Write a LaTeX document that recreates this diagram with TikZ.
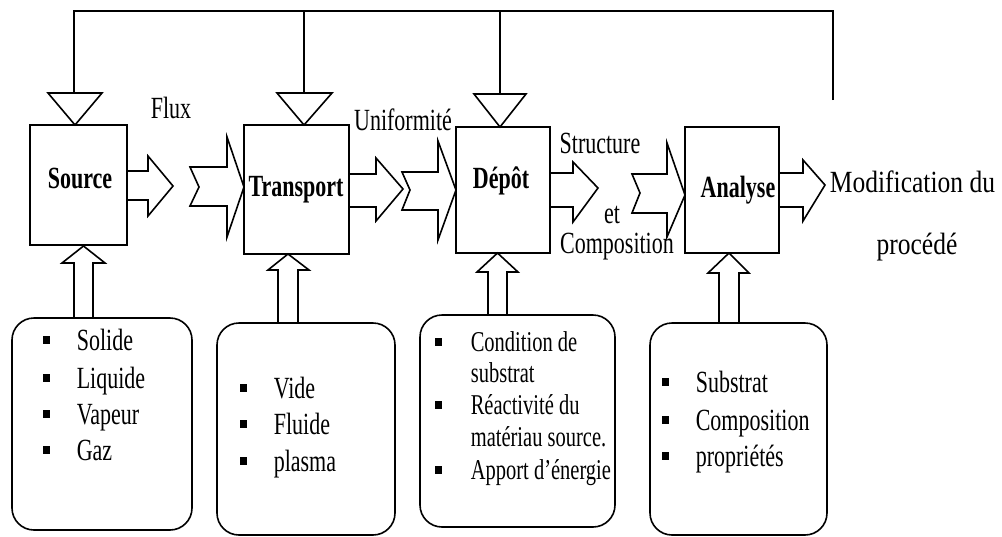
\documentclass[tikz,border=0pt]{standalone}
\usepackage{fontspec}
\setmainfont{Liberation Serif}
\begin{document}
\begin{tikzpicture}[x=1pt,y=-1pt, line width=1.6pt, line join=miter,
  box/.style={draw, line width=1.6pt, inner sep=0pt},
  rbox/.style={draw, line width=1.6pt, rounded corners=22pt, inner sep=0pt},
  lbl/.style={font=\fontsize{22}{26}\selectfont\bfseries, yscale=1.4, inner sep=0pt},
  ann/.style={font=\fontsize{22}{26}\selectfont, yscale=1.4, inner sep=0pt},
  wide/.style={xscale=1.16},
  txt/.style={font=\fontsize{22}{26}\selectfont, yscale=1.4, inner sep=0pt, anchor=base west},
  stxt/.style={font=\fontsize{20.5}{24}\selectfont, yscale=1.4, inner sep=0pt, anchor=base west},
  blk/.style={draw, line width=1.6pt},
  bul/.style={fill=black, minimum width=7pt, minimum height=8.5pt, inner sep=0pt, draw=none},
]
\useasboundingbox (0,0) rectangle (1002,536);

% main boxes
\node[box, minimum width=97pt, minimum height=120pt] (source) at (78.5,185) {};
\node[box, minimum width=105pt, minimum height=129pt] (transport) at (296.5,189.5) {};
\node[box, minimum width=94pt, minimum height=126pt] (depot) at (503,190) {};
\node[box, minimum width=94pt, minimum height=126pt] (analyse) at (732,190) {};

\node[lbl] (lsource) at (80,178) {Source};
\node[lbl] (ltransport) at (296,190) {Transport};
\node[lbl] (ldepot) at (501,181) {Dépôt};
\node[lbl] (lanalyse) at (738,190) {Analyse};

% feedback line and triangles
\coordinate (fbend) at (833,100);
\draw (fbend) -- (833,11) -- (74,11) -- (74,93);
\draw (304,11) -- (304,93);
\draw (500,11) -- (500,94);
\draw[blk] (48,93) -- (102,93) -- (75,125) -- cycle;
\draw[blk] (277,93) -- (332,93) -- (304,125) -- cycle;
\draw[blk] (474,94) -- (526,94) -- (500,127) -- cycle;

% horizontal block arrows
\draw[blk] (127,171) -- (148,171) -- (148,156) -- (173,186) -- (148,216) -- (148,200) -- (127,200);
\draw[blk] (190,167) -- (227,167) -- (227,137) -- (244,187) -- (227,237) -- (227,206) -- (190,206) -- (199,187) -- cycle;
\draw[blk] (349,174) -- (376,174) -- (376,158) -- (403,189) -- (376,221) -- (376,207) -- (349,207);
\draw[blk] (402,172) -- (438,172) -- (438,141) -- (456,190) -- (438,240) -- (438,210) -- (402,210) -- (410,190) -- cycle;
\draw[blk] (550,173) -- (573,173) -- (573,162) -- (598,188) -- (573,222) -- (573,207) -- (550,207);
\draw[blk] (632,174) -- (667,174) -- (667,143) -- (685,195) -- (667,237) -- (667,213) -- (632,213) -- (640,193) -- cycle;
\draw[blk] (779,173) -- (803,173) -- (803,160) -- (825,185) -- (803,221) -- (803,207) -- (779,207);

% flow labels
\node[ann] (flux) at (171,108) {Flux};
\node[ann] (unif) at (403,120) {Uniformité};
\node[ann] (struct) at (600,143) {Structure};
\node[ann] (et) at (612,215) {et};
\node[ann] (compo) at (617,247) {Composition};
\node[ann, wide, anchor=west] (modif) at (829,182) {Modification du};
\node[ann, wide] (proc) at (917,247) {procédé};

% bottom boxes
\node[rbox, minimum width=180pt, minimum height=212pt] (b1) at (102,424) {};
\node[rbox, minimum width=178pt, minimum height=212pt] (b2) at (306,429) {};
\node[rbox, minimum width=195pt, minimum height=212pt] (b3) at (517.5,421) {};
\node[rbox, minimum width=177pt, minimum height=212pt] (b4) at (738.5,429) {};

% up arrows
\draw[blk] (74,318) -- (74,263) -- (62,263) -- (83.5,246) -- (105,263) -- (93,263) -- (93,318);
\draw[blk] (278,323) -- (278,270) -- (268,270) -- (288,254) -- (309,270) -- (298,270) -- (298,323);
\draw[blk] (488,315) -- (488,272) -- (477,272) -- (497.5,253) -- (518,272) -- (507,272) -- (507,315);
\draw[blk] (719,323) -- (719,273) -- (708,273) -- (729,253) -- (749,273) -- (739,273) -- (739,323);

% lists
\foreach \y/\t [count=\i] in {340/Solide, 378/Liquide, 414/Vapeur, 450/Gaz} {
  \node[bul] (bu1\i) at (46,\y) {};
  \node[txt] (t1\i) at (76,\y+10) {\t};
}
\foreach \y/\t [count=\i] in {388/Vide, 424/Fluide, 461/plasma} {
  \node[bul] (bu2\i) at (243,\y) {};
  \node[txt] (t2\i) at (273,\y+10) {\t};
}
\node[bul] (bu31) at (438,342) {};
\node[bul] (bu32) at (438,405) {};
\node[bul] (bu33) at (438,470) {};
\node[stxt] (t31) at (470,351) {Condition de};
\node[stxt] (t32) at (470,382) {substrat};
\node[stxt] (t33) at (470,414) {Réactivité du};
\node[stxt] (t34) at (470,446) {matériau source.};
\node[stxt] (t35) at (470,479) {Apport d'énergie};
\foreach \y/\t [count=\i] in {382/Substrat, 420/Composition, 456/propriétés} {
  \node[bul] (bu4\i) at (665,\y) {};
  \node[txt] (t4\i) at (695,\y+10) {\t};
}
\end{tikzpicture}
\end{document}
